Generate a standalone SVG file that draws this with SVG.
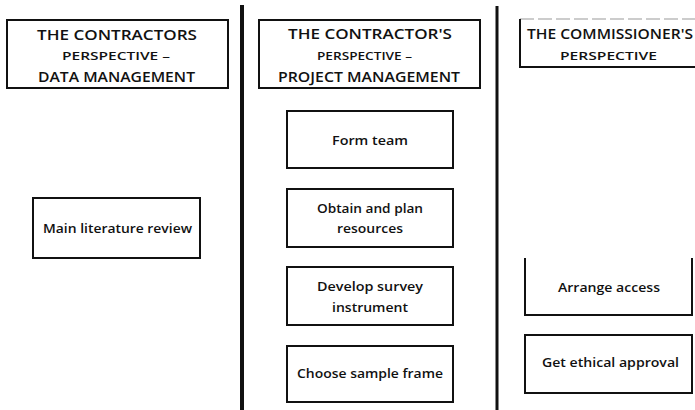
<svg xmlns="http://www.w3.org/2000/svg" width="695" height="410" viewBox="0 0 695 410">
  <style>
    .box { fill: #fff; stroke: #111; stroke-width: 2; }
    .edge { fill: none; stroke: #111; stroke-width: 2; }
    .divider { stroke: #111; fill: none; }
    text { font-family: "Open Sans", "Liberation Sans", sans-serif; fill: #111; text-anchor: start; }
    .head { font-size: 14.5px; font-weight: 600; }
    .sub { font-size: 11px; font-weight: 600; }
    .lbl { font-size: 12px; font-weight: 600; }
  </style>

  <rect width="695" height="410" fill="#fff"/>

  <!-- column dividers -->
  <g id="dividers">
    <line class="divider" x1="242" y1="5" x2="242" y2="410" stroke-width="4"/>
    <line class="divider" x1="497" y1="6" x2="497" y2="410" stroke-width="3"/>
  </g>

  <!-- column headings -->
  <g id="head-data">
    <rect class="box" x="7" y="20" width="221" height="68"/>
    <text class="head" x="37" y="40" textLength="160" lengthAdjust="spacingAndGlyphs">THE CONTRACTORS</text>
    <text class="sub" x="62" y="60" textLength="108" lengthAdjust="spacingAndGlyphs">PERSPECTIVE –</text>
    <text class="head" x="38" y="82" textLength="157" lengthAdjust="spacingAndGlyphs">DATA MANAGEMENT</text>
  </g>

  <g id="head-project">
    <rect class="box" x="259" y="20" width="221" height="68"/>
    <text class="head" x="288" y="39" textLength="164" lengthAdjust="spacingAndGlyphs">THE CONTRACTOR'S</text>
    <text class="sub" x="317" y="60" textLength="95" lengthAdjust="spacingAndGlyphs">PERSPECTIVE –</text>
    <text class="head" x="278" y="82" textLength="182" lengthAdjust="spacingAndGlyphs">PROJECT MANAGEMENT</text>
  </g>

  <g id="head-commissioner">
    <line x1="520" y1="19" x2="695" y2="19" stroke="#999" stroke-width="1" stroke-dasharray="14 4"/>
    <path class="edge" d="M520,19 V67 H695"/>
    <text class="head" x="527" y="39" textLength="166" lengthAdjust="spacingAndGlyphs">THE COMMISSIONER'S</text>
    <text class="sub" x="560" y="60" textLength="97" lengthAdjust="spacingAndGlyphs">PERSPECTIVE</text>
  </g>

  <!-- data management column -->
  <g id="literature-review">
    <rect class="box" x="33" y="198" width="167" height="60"/>
    <text class="lbl" x="43" y="233" textLength="149" lengthAdjust="spacingAndGlyphs">Main literature review</text>
  </g>

  <!-- project management column -->
  <g id="form-team">
    <rect class="box" x="287" y="111" width="166" height="57"/>
    <text class="lbl" x="332" y="145" textLength="76" lengthAdjust="spacingAndGlyphs">Form team</text>
  </g>

  <g id="obtain-resources">
    <rect class="box" x="287" y="189" width="166" height="58"/>
    <text class="lbl" x="317" y="213" textLength="106" lengthAdjust="spacingAndGlyphs">Obtain and plan</text>
    <text class="lbl" x="337" y="233" textLength="66" lengthAdjust="spacingAndGlyphs">resources</text>
  </g>

  <g id="survey-instrument">
    <rect class="box" x="287" y="267" width="166" height="58"/>
    <text class="lbl" x="317" y="291" textLength="106" lengthAdjust="spacingAndGlyphs">Develop  survey</text>
    <text class="lbl" x="332" y="312" textLength="76" lengthAdjust="spacingAndGlyphs">instrument</text>
  </g>

  <g id="sample-frame">
    <rect class="box" x="287" y="346" width="166" height="56"/>
    <text class="lbl" x="297" y="378" textLength="146" lengthAdjust="spacingAndGlyphs">Choose sample frame</text>
  </g>

  <!-- commissioner column -->
  <g id="arrange-access">
    <path class="edge" d="M525,258 V315 H692 V258"/>
    <text class="lbl" x="558" y="292" textLength="102" lengthAdjust="spacingAndGlyphs">Arrange access</text>
  </g>

  <g id="ethical-approval">
    <rect class="box" x="525" y="335" width="167" height="58"/>
    <text class="lbl" x="542" y="367" textLength="137" lengthAdjust="spacingAndGlyphs">Get ethical approval</text>
  </g>
</svg>
